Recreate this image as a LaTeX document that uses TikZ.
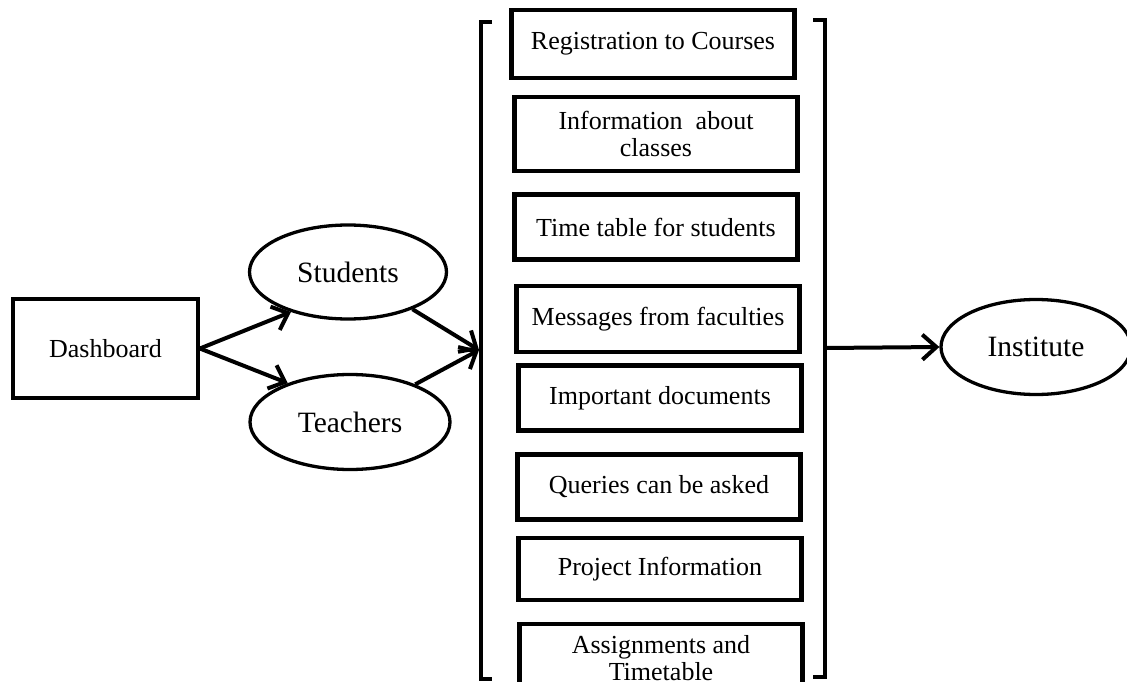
\documentclass[tikz,border=0pt]{standalone}
\usepackage{fontspec}
\setmainfont{Liberation Serif}
\usetikzlibrary{shapes.geometric,arrows.meta}
\begin{document}
\begin{tikzpicture}[x=1pt,y=-1pt,
  item/.style={draw,line width=4.5pt,minimum width=283pt,inner sep=0pt,align=center,font=\fontsize{26}{27}\selectfont},
  oval/.style={draw,ellipse,line width=3.3pt,inner sep=0pt,font=\fontsize{29.5}{31}\selectfont},
  arr/.style={line width=4pt,-{Straight Barb[length=14pt,width=25pt,line width=4pt]}},
  brk/.style={line width=4pt}]
\useasboundingbox (0,0) rectangle (1127,682);
\node[draw,line width=3.8pt,minimum width=185pt,minimum height=99pt,font=\fontsize{26}{28}\selectfont] (dash) at (105.5,348.5) {Dashboard};
\node[oval,minimum width=197pt,minimum height=94pt] (stu) at (348,272) {Students};
\node[oval,minimum width=200pt,minimum height=95pt] (tea) at (350,422) {Teachers};
\node[oval,minimum width=190pt,minimum height=95pt] (inst) at (1036,347) {Institute};
\node[item,minimum height=68pt] (b1) at (653,44) {Registration to Courses};
\node[item,minimum height=74pt] (b2) at (656,134) {Information\ \ about\\classes};
\node[item,minimum height=65pt] (b3) at (656,227) {Time table for students};
\node[item,minimum height=66pt] (b4) at (658,319) {Messages from faculties};
\node[item,minimum height=65pt] (b5) at (660,398) {Important documents};
\node[item,minimum height=65pt] (b6) at (659,487) {Queries can be asked};
\node[item,minimum height=62pt] (b7) at (660,569) {Project Information};
\node[item,minimum height=68pt] (b8) at (661,658) {Assignments and\\Timetable};
\coordinate (lt) at (481,22);
\coordinate (lb) at (481,679);
\coordinate (rt) at (825,20);
\coordinate (rb) at (825,677);
\coordinate (lm) at (479,350);
\coordinate (rm) at (825,348);
\draw[brk] (492,22) -- (lt) -- (lb) -- (492,679);
\draw[brk] (813,20) -- (rt) -- (rb) -- (813,677);
\draw[arr] (dash.east) -- (stu.215);
\draw[arr] (dash.east) -- (tea.148);
\draw[arr] (stu.-30) -- (lm);
\draw[arr] (tea.30) -- (lm);
\draw[arr] (rm) -- (inst.west);
\end{tikzpicture}
\end{document}
